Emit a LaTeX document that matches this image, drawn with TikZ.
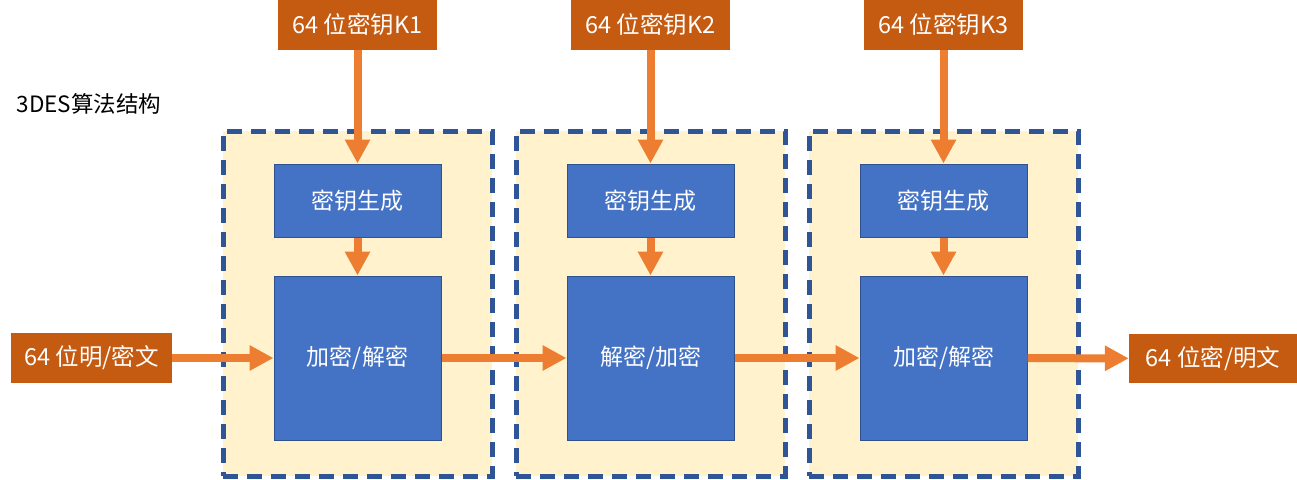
\documentclass[tikz,border=0pt]{standalone}
\usepackage{fontspec}
\setmainfont{Noto Sans CJK SC}
\usetikzlibrary{arrows.meta}
\definecolor{keyorange}{HTML}{C55A11}
\definecolor{floworange}{HTML}{ED7D31}
\definecolor{stepblue}{HTML}{4472C4}
\definecolor{stepedge}{HTML}{2F528F}
\definecolor{framedash}{HTML}{2F5597}
\definecolor{framefill}{HTML}{FFF2CC}

\begin{document}
\begin{tikzpicture}
	[x=1pt,y=-1pt,
	 iobox/.style={rectangle,fill=keyorange,text=white,inner sep=0pt,font=\fontsize{23.5}{28}\selectfont},
	 stepbox/.style={rectangle,fill=stepblue,draw=stepedge,line width=1pt,text=white,inner sep=0pt,minimum width=167pt,font=\fontsize{23}{28}\selectfont},
	 stage/.style={rectangle,fill=framefill,draw=framedash,line width=5pt,dash pattern=on 15pt off 9pt,minimum width=269pt,minimum height=345pt,inner sep=0pt},
	 flow/.style={-{Triangle[length=24pt,width=24pt]},line width=8pt,draw=floworange}];
\useasboundingbox (0,0) rectangle (1297,479);

% stage frames
\node[stage] (stage1) at (357.5,303.5) {};
\node[stage] (stage2) at (650.5,303.5) {};
\node[stage] (stage3) at (943.5,303.5) {};

\node[anchor=west,font=\fontsize{22.5}{27}\selectfont] (title) at (13,104) {3DES算法结构};

% keys
\node[iobox,minimum width=159pt,minimum height=50pt] (key1) at (357.5,25) {64 位密钥K1};
\node[iobox,minimum width=159pt,minimum height=50pt] (key2) at (650.5,25) {64 位密钥K2};
\node[iobox,minimum width=159pt,minimum height=50pt] (key3) at (943.5,25) {64 位密钥K3};

% key generation
\node[stepbox,minimum height=73pt] (gen1) at (357.5,200.5) {密钥生成};
\node[stepbox,minimum height=73pt] (gen2) at (650.5,200.5) {密钥生成};
\node[stepbox,minimum height=73pt] (gen3) at (943.5,200.5) {密钥生成};

% des rounds
\node[stepbox,minimum height=164pt] (des1) at (357.5,358) {加密/解密};
\node[stepbox,minimum height=164pt] (des2) at (650.5,358) {解密/加密};
\node[stepbox,minimum height=164pt] (des3) at (943.5,358) {加密/解密};

% input and output
\node[iobox,minimum width=161pt,minimum height=50pt] (input) at (91.5,358) {64 位明/密文};
\node[iobox,minimum width=168pt,minimum height=49pt] (output) at (1213,358.5) {64 位密/明文};

\draw[flow] (key1) -- (gen1);
\draw[flow] (key2) -- (gen2);
\draw[flow] (key3) -- (gen3);
\draw[flow] (gen1) -- (des1);
\draw[flow] (gen2) -- (des2);
\draw[flow] (gen3) -- (des3);
\draw[flow] (input) -- (des1);
\draw[flow] (des1) -- (des2);
\draw[flow] (des2) -- (des3);
\draw[flow] (des3) -- (output);
\end{tikzpicture}
\end{document}
